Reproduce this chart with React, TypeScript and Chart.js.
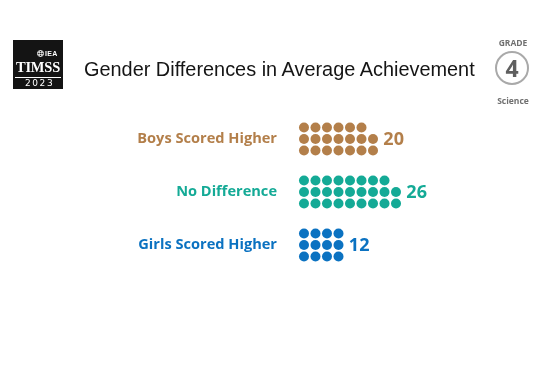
import React, { useEffect, useRef } from "react";
import { Chart, registerables } from "chart.js";

Chart.register(...registerables);

const CATEGORIES = ["Boys Scored Higher", "No Difference", "Girls Scored Higher"];
const COUNTS = [20, 26, 12];
const COLORS = ["#b37f4a", "#14aa96", "#0b72c1"];
const ROWS = 3;
const ROW_OFFSET = 0.217;
const TITLE = "Gender Differences in Average Achievement";

function dotsFor(count: number, cat: number) {
  const pts: { x: number; y: number }[] = [];
  for (let i = 0; i < count; i++) {
    const col = Math.floor(i / ROWS);
    const rFromBottom = i % ROWS;
    pts.push({ x: col, y: cat + (1 - rFromBottom) * ROW_OFFSET });
  }
  return pts;
}

const countLabels = {
  id: "countLabels",
  afterDatasetsDraw(chart: any) {
    const { ctx } = chart;
    const x = chart.scales.x;
    const y = chart.scales.y;
    ctx.save();
    ctx.font = "700 18px 'Open Sans'";
    ctx.textAlign = "left";
    ctx.textBaseline = "middle";
    COUNTS.forEach((n, i) => {
      const cols = Math.ceil(n / ROWS);
      ctx.fillStyle = COLORS[i];
      ctx.fillText(String(n), x.getPixelForValue(cols - 1 + 0.9), y.getPixelForValue(i) + 0.5);
    });
    ctx.restore();
  },
};

function Globe() {
  return (
    <svg width="7" height="7" viewBox="0 0 10 10" style={{ display: "block" }}>
      <circle cx="5" cy="5" r="4.3" fill="none" stroke="#fff" strokeWidth="1.2" />
      <ellipse cx="5" cy="5" rx="1.8" ry="4.3" fill="none" stroke="#fff" strokeWidth="1" />
      <line x1="0.7" y1="3.5" x2="9.3" y2="3.5" stroke="#fff" strokeWidth="0.9" />
      <line x1="0.7" y1="6.5" x2="9.3" y2="6.5" stroke="#fff" strokeWidth="0.9" />
    </svg>
  );
}

export default function App() {
  const ref = useRef<HTMLCanvasElement>(null);

  useEffect(() => {
    if (!ref.current) return;
    const chart = new Chart(ref.current, {
      type: "scatter",
      data: {
        datasets: CATEGORIES.map((c, i) => ({
          label: c,
          data: dotsFor(COUNTS[i], i),
          backgroundColor: COLORS[i],
          borderWidth: 0,
          pointRadius: 5,
          pointHoverRadius: 5,
        })),
      },
      options: {
        animation: false,
        responsive: false,
        maintainAspectRatio: false,
        layout: { padding: { left: 0, right: 20, top: 86, bottom: 72 } },
        plugins: { legend: { display: false }, tooltip: { enabled: false } },
        scales: {
          x: { display: false, min: -1.217, max: 20.52 },
          y: {
            reverse: true,
            min: -1,
            max: 3,
            grid: { display: false, drawTicks: false },
            border: { display: false },
            afterFit: (scale: any) => {
              scale.width = 290;
            },
            afterBuildTicks: (scale: any) => {
              scale.ticks = CATEGORIES.map((_, i) => ({ value: i }));
            },
            ticks: {
              autoSkip: false,
              padding: 13,
              font: { family: "'Open Sans'", size: 14.6, weight: "bold" },
              color: (ctx: any) => COLORS[ctx.index] || "#000",
              callback: (_v: any, i: number) => CATEGORIES[i],
            },
          },
        },
      },
      plugins: [countLabels],
    });
    return () => chart.destroy();
  }, []);

  return (
    <div style={{ position: "fixed", left: 0, top: 0, width: 560, height: 370, background: "#fff", overflow: "hidden" }}>
      <canvas ref={ref} width={560} height={370} style={{ position: "absolute", left: 0, top: 0 }} />
      <div
        style={{
          position: "absolute",
          left: 13,
          top: 40,
          width: 50,
          height: 49,
          background: "#141414",
          color: "#fff",
        }}
      >
        <div style={{ position: "absolute", left: 24, top: 10, display: "flex", alignItems: "center", gap: 1 }}>
          <Globe />
          <span style={{ font: "bold 7px 'Liberation Sans', sans-serif", letterSpacing: 0.3, lineHeight: "7px" }}>IEA</span>
        </div>
        <div
          style={{
            position: "absolute",
            left: 0,
            width: 50,
            top: 20,
            textAlign: "center",
            font: "bold 14.5px 'Liberation Serif', serif",
            lineHeight: "14px",
            letterSpacing: -0.2,
          }}
        >
          TIMSS
        </div>
        <div style={{ position: "absolute", left: 2, right: 2, top: 37, height: 1, background: "#fff" }} />
        <div
          style={{
            position: "absolute",
            left: 0,
            width: 50,
            top: 39,
            textAlign: "center",
            font: "9px 'DejaVu Sans', sans-serif",
            lineHeight: "9px",
            letterSpacing: 1.6,
            paddingLeft: 1.6,
          }}
        >
          2023
        </div>
      </div>
      <div
        style={{
          position: "absolute",
          left: 84,
          top: 57,
          font: "19.9px 'Liberation Sans', sans-serif",
          color: "#151515",
          whiteSpace: "nowrap",
          lineHeight: "24px",
        }}
      >
        {TITLE}
      </div>
      <div
        style={{
          position: "absolute",
          left: 488,
          top: 38,
          width: 50,
          textAlign: "center",
          font: "bold 8.5px 'Open Sans', sans-serif",
          color: "#707070",
          lineHeight: "10px",
        }}
      >
        GRADE
      </div>
      <div
        style={{
          position: "absolute",
          left: 495,
          top: 51,
          width: 30,
          height: 30,
          borderRadius: "50%",
          border: "2.7px solid #a9a9a9",
          textAlign: "center",
          font: "bold 23px 'Open Sans', sans-serif",
          color: "#5f5f5f",
          lineHeight: "30px",
        }}
      >
        4
      </div>
      <div
        style={{
          position: "absolute",
          left: 488,
          top: 96,
          width: 50,
          textAlign: "center",
          font: "bold 8.5px 'Open Sans', sans-serif",
          color: "#707070",
          lineHeight: "10px",
        }}
      >
        Science
      </div>
    </div>
  );
}
